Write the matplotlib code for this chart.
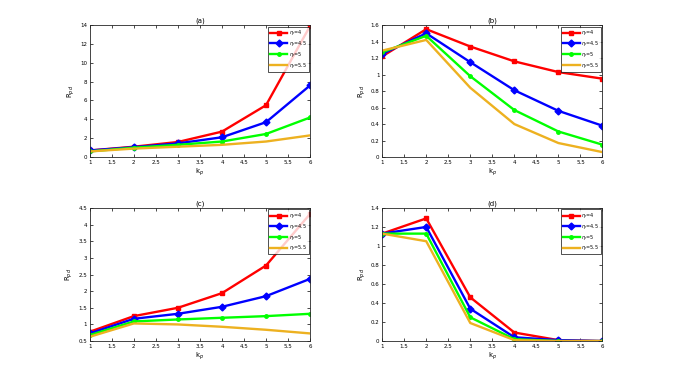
import matplotlib
matplotlib.use('Agg')
import matplotlib.pyplot as plt
import numpy as np

kp = [1, 2, 3, 4, 5, 6]
labels = ['$\\eta_r$=4', '$\\eta_r$=4.5', '$\\eta_r$=5', '$\\eta_r$=5.5']

a_r4 = [0.7, 1.1, 1.6, 2.7, 5.5, 13.9]
a_r45 = [0.7, 1.05, 1.45, 2.1, 3.7, 7.6]
a_r5 = [0.6, 1.0, 1.3, 1.65, 2.45, 4.2]
a_r55 = [0.6, 0.9, 1.1, 1.3, 1.65, 2.3]

b_r4 = [1.22, 1.55, 1.34, 1.16, 1.03, 0.95]
b_r45 = [1.25, 1.5, 1.15, 0.81, 0.56, 0.38]
b_r5 = [1.27, 1.47, 0.98, 0.57, 0.31, 0.15]
b_r55 = [1.29, 1.42, 0.84, 0.40, 0.17, 0.06]

c_r4 = [0.78, 1.25, 1.5, 1.94, 2.77, 4.32]
c_r45 = [0.73, 1.17, 1.32, 1.53, 1.85, 2.37]
c_r5 = [0.68, 1.09, 1.15, 1.2, 1.25, 1.32]
c_r55 = [0.63, 1.03, 1.0, 0.93, 0.84, 0.73]

d_r4 = [1.13, 1.29, 0.46, 0.09, 0.01, 0.0]
d_r45 = [1.13, 1.2, 0.34, 0.04, 0.01, 0.0]
d_r5 = [1.13, 1.13, 0.25, 0.02, 0.0, 0.0]
d_r55 = [1.13, 1.05, 0.19, 0.01, 0.0, 0.0]

panels = [
    ('(a)', [a_r4, a_r45, a_r5, a_r55], (0, 14), np.arange(0, 15, 2)),
    ('(b)', [b_r4, b_r45, b_r5, b_r55], (0, 1.6), np.arange(0, 1.61, 0.2)),
    ('(c)', [c_r4, c_r45, c_r5, c_r55], (0.5, 4.5), np.arange(0.5, 4.51, 0.5)),
    ('(d)', [d_r4, d_r45, d_r5, d_r55], (0, 1.4), np.arange(0, 1.41, 0.2)),
]
colors = ['#ff0000', '#0000ff', '#00ff00', '#edb120']
markers = ['s', 'D', 'o', None]
msizes = [3.5, 3.5, 2.5, 0]

positions = [
    [0.132, 0.580, 0.324, 0.353],
    [0.562, 0.580, 0.324, 0.353],
    [0.132, 0.088, 0.324, 0.356],
    [0.562, 0.088, 0.324, 0.356],
]

fig = plt.figure(figsize=(6.8, 3.74), dpi=100)
for pos, (title, series, ylim, yt) in zip(positions, panels):
    ax = fig.add_axes(pos)
    for s, c, m, ms, lab in zip(series, colors, markers, msizes, labels):
        ax.plot(kp, s, color=c, marker=m, markersize=ms, linewidth=1.7, label=lab)
    ax.set_xlim(1, 6)
    ax.set_ylim(*ylim)
    ax.set_xticks(np.arange(1, 6.01, 0.5))
    ax.set_xticklabels(['1', '1.5', '2', '2.5', '3', '3.5', '4', '4.5', '5', '5.5', '6'])
    ax.set_yticks(yt)
    ax.set_yticklabels(['%g' % v for v in yt])
    ax.tick_params(direction='in', length=2, width=0.5, labelsize=4,
                   top=True, right=True, pad=2)
    for sp in ax.spines.values():
        sp.set_linewidth(0.6)
        sp.set_color('#262626')
    ax.set_title(title, fontsize=5, pad=2)
    ax.set_xlabel('k$_p$', fontsize=5, labelpad=1)
    ax.set_ylabel('R$_{pd}$', fontsize=5, labelpad=2)
    leg = ax.legend(loc='upper right', fontsize=3.5, frameon=True, fancybox=False,
                    handlelength=3.5, handletextpad=0.3, borderpad=0.4,
                    labelspacing=0.35, borderaxespad=0.3)
    leg.get_frame().set_edgecolor('black')
    leg.get_frame().set_linewidth(0.6)

plt.savefig('out.png', dpi=100)
